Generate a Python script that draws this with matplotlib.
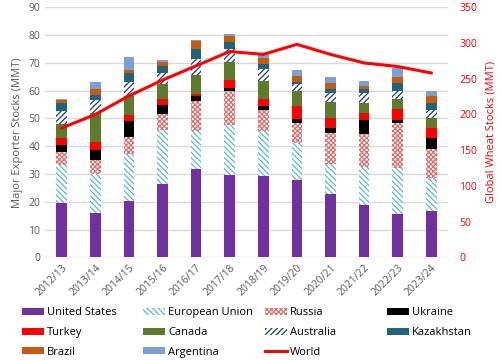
import matplotlib
matplotlib.use('Agg')
import matplotlib.pyplot as plt
import numpy as np

# Marketing years
years = ['2012/13', '2013/14', '2014/15', '2015/16', '2016/17', '2017/18',
         '2018/19', '2019/20', '2020/21', '2021/22', '2022/23', '2023/24']

# Ending stocks by exporter (MMT)
united_states = [19.4, 15.8, 20.3, 26.4, 31.9, 29.7, 29.3, 27.8, 22.9, 18.8, 15.7, 16.7]
european_union = [13.8, 14.2, 16.8, 19.4, 13.6, 17.9, 16.0, 13.2, 10.7, 13.6, 16.3, 12.0]
russia = [4.7, 5.0, 6.2, 5.7, 10.8, 12.2, 7.6, 7.2, 11.3, 12.0, 16.3, 10.4]
ukraine = [2.6, 3.6, 5.7, 3.2, 1.9, 1.2, 1.5, 1.5, 1.5, 5.0, 1.1, 4.0]
turkey = [2.3, 2.9, 2.2, 2.4, 0.6, 2.8, 2.7, 4.6, 3.7, 2.5, 4.0, 3.6]
canada = [5.2, 10.4, 7.0, 5.3, 6.8, 6.6, 6.2, 5.4, 5.9, 3.6, 3.5, 3.5]
australia = [4.7, 4.7, 5.0, 3.9, 5.7, 4.6, 4.6, 2.8, 3.3, 3.6, 3.1, 2.8]
kazakhstan = [2.9, 1.8, 3.1, 2.7, 3.6, 2.6, 1.5, 0.6, 1.2, 1.4, 2.7, 2.7]
brazil = [1.0, 2.2, 1.1, 1.3, 2.9, 2.2, 2.2, 2.0, 2.2, 1.2, 2.1, 2.4]
argentina = [0.4, 2.6, 4.8, 0.7, 0.3, 0.5, 1.4, 2.3, 2.1, 1.7, 3.3, 1.9]

# Global wheat stocks (MMT), right axis
world = [181, 200, 226, 248, 268, 288, 284, 298, 284, 272, 267, 258]

series = [
    ('United States', united_states, dict(color='#7030A0')),
    ('European Union', european_union, dict(facecolor='white', edgecolor='#5BB8D0', hatch='\\\\\\\\\\\\')),
    ('Russia', russia, dict(facecolor='white', edgecolor='#D8706E', hatch='xxxxxxx')),
    ('Ukraine', ukraine, dict(color='black')),
    ('Turkey', turkey, dict(color='#FF0000')),
    ('Canada', canada, dict(color='#5E7A2E')),
    ('Australia', australia, dict(facecolor='white', edgecolor='#1F3A6E', hatch='//////')),
    ('Kazakhstan', kazakhstan, dict(color='#22647A')),
    ('Brazil', brazil, dict(color='#C55A11')),
    ('Argentina', argentina, dict(color='#7BA0D6')),
]

plt.rcParams['font.family'] = ['Open Sans', 'DejaVu Sans']
plt.rcParams['hatch.linewidth'] = 0.9

fig = plt.figure(figsize=(5, 3.6), dpi=100)
ax = fig.add_axes([0.09, 0.285, 0.806, 0.695])
ax2 = ax.twinx()

x = np.arange(len(years))
bottom = np.zeros(len(years))
bars = {}
for name, vals, style in series:
    b = ax.bar(x, vals, 0.32, bottom=bottom, linewidth=0, label=name, zorder=3, **style)
    bottom += np.array(vals)
    bars[name] = b

line, = ax2.plot(x, world, color='#FF0000', linewidth=2.2, label='World', zorder=4)
bars['World'] = line

ax.set_xlim(-0.5, len(years) - 0.5)
ax.set_ylim(0, 90)
ax.set_yticks(range(0, 91, 10))
ax2.set_ylim(0, 350)
ax2.set_yticks(range(0, 351, 50))

ax.grid(axis='y', color='#D9D9D9', linewidth=1, zorder=0)
ax.set_axisbelow(True)
for a in (ax, ax2):
    for s in a.spines.values():
        s.set_visible(False)
ax.tick_params(axis='both', length=0, labelsize=7.5, labelcolor='#595959')
ax2.tick_params(axis='y', length=0, labelsize=7.5, labelcolor='#FF0000', pad=8)
ax.set_xticks(x)
ax.set_xticklabels(years, rotation=45, ha='right', rotation_mode='anchor')

ax.set_ylabel('Major Exporter Stocks (MMT)', fontsize=8, color='#595959', labelpad=4)
ax2.set_ylabel('Global Wheat Stocks (MMT)', fontsize=8, color='#FF0000', labelpad=6)

# legend: four evenly spaced columns, one small legend each
columns = [['United States', 'Turkey', 'Brazil'],
           ['European Union', 'Canada', 'Argentina'],
           ['Russia', 'Australia', 'World'],
           ['Ukraine', 'Kazakhstan']]
col_x = [0.044, 0.286, 0.53, 0.774]
for names, cx in zip(columns, col_x):
    leg = fig.legend(handles=[bars[n] for n in names], labels=names,
                     loc='upper left', bbox_to_anchor=(cx, 0.146), frameon=False,
                     fontsize=8, handlelength=2.0, handleheight=0.6, labelspacing=0.78,
                     handletextpad=0.25, borderaxespad=0, borderpad=0)

fig.savefig('out.png', dpi=100)
